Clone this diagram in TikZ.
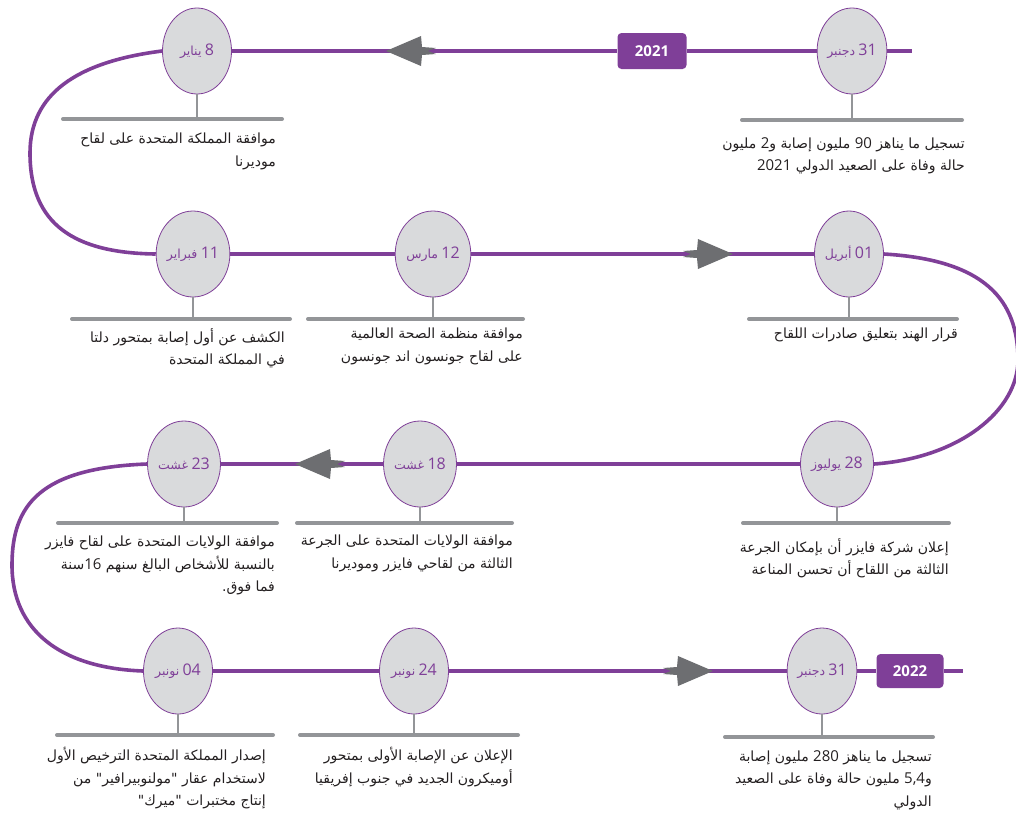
\documentclass[tikz,border=0pt]{standalone}
\usepackage{fontspec}
\usetikzlibrary{shapes.geometric}
\TeXXeTstate=1
\newfontfamily\arabicfont[Script=Arabic]{DejaVu Sans}
\newfontfamily\numfont{Open Sans}
\definecolor{tlpurple}{HTML}{7F3F98}
\definecolor{evfill}{HTML}{D9DADC}
\definecolor{bargray}{HTML}{939598}
\definecolor{arrgray}{HTML}{6D6E71}
\definecolor{txtblack}{HTML}{231F20}
\newcommand\rl[1]{\beginR #1\endR}
\newcommand\nm[1]{{\numfont\fontsize{15}{15}\selectfont #1}}
\newcommand\dlab[2]{\beginR{\numfont\fontsize{16}{16}\selectfont #1}\ {\arabicfont\fontsize{12.5}{12.5}\selectfont #2}\endR}
\begin{document}
\begin{tikzpicture}[x=1pt,y=-1pt,
 ev/.style={ellipse, draw=tlpurple, line width=0.8pt, fill=evfill, minimum width=69pt, minimum height=86pt, inner sep=0pt, text=tlpurple},
 tl/.style={draw=tlpurple, line width=3.6pt},
 bar/.style={draw=bargray, line width=4pt, line cap=round},
 stem/.style={draw=bargray, line width=2.5pt},
 yearbox/.style={fill=tlpurple, rounded corners=4pt, minimum width=69pt, minimum height=36pt, inner sep=0pt, text=white, font=\numfont\bfseries\fontsize{15}{15}\selectfont},
 desc/.style={anchor=north east, align=right, inner sep=0pt, text=txtblack, font=\arabicfont\fontsize{14}{22.5}\selectfont},
 garrow/.pic={\fill[arrgray] (0,0) -- (-35,-15) -- (-36,-4) -- (-50,-3) -- (-42,0) -- (-50,3) -- (-36,4) -- (-35,15) -- cycle;}
]
\useasboundingbox (0,0) rectangle (1016,812);

% events
\node[ev] (e1) at (852,51) {\dlab{31}{دجنبر}};
\node[ev] (e2) at (197,51) {\dlab{8}{يناير}};
\node[ev] (e3) at (193,254) {\dlab{11}{فبراير}};
\node[ev] (e4) at (433,254) {\dlab{12}{مارس}};
\node[ev] (e5) at (849,254) {\dlab{01}{أبريل}};
\node[ev] (e6) at (837,464) {\dlab{28}{يوليوز}};
\node[ev] (e7) at (420,464) {\dlab{18}{غشت}};
\node[ev] (e8) at (184,464) {\dlab{23}{غشت}};
\node[ev] (e9) at (178,671) {\dlab{04}{نونبر}};
\node[ev] (e10) at (414,671) {\dlab{24}{نونبر}};
\node[ev] (e11) at (822,671) {\dlab{31}{دجنبر}};

% year boxes
\node[yearbox] (y21) at (652,51) {2021};
\node[yearbox, minimum width=67pt, minimum height=34pt] (y22) at (910,671) {2022};

\coordinate (r1end) at (912,51);
\coordinate (r4end) at (963,671);

% timeline
\draw[tl] (e1.east) -- (r1end);
\draw[tl] (y21.east) -- (e1.west);
\draw[tl] (e2.east) -- (y21.west);
\draw[tl] (e2.west) .. controls (75,62) and (30,95) .. (30,153) .. controls (30,225) and (75,253) .. (e3.west);
\draw[tl] (e3.east) -- (e4.west);
\draw[tl] (e4.east) -- (e5.west);
\draw[tl] (e5.east) .. controls (985,260) and (1018,300) .. (1018,360) .. controls (1018,410) and (960,458) .. (e6.east);
\draw[tl] (e6.west) -- (e7.east);
\draw[tl] (e7.west) -- (e8.east);
\draw[tl] (e8.west) .. controls (40,468) and (12,505) .. (12,565) .. controls (12,630) and (60,668) .. (e9.west);
\draw[tl] (e9.east) -- (e10.west);
\draw[tl] (e10.east) -- (e11.west);
\draw[tl] (e11.east) -- (y22.west);
\draw[tl] (y22.east) -- (r4end);

% arrows
\pic[xscale=-1] at (386,51) {garrow};
\pic at (733,254) {garrow};
\pic[xscale=-1] at (295,464) {garrow};
\pic at (713,671) {garrow};

% bars and stems
\coordinate (b1l) at (742,120); \coordinate (b1r) at (962,120);
\coordinate (b2l) at (63,119); \coordinate (b2r) at (282,119);
\coordinate (b3l) at (72,319); \coordinate (b3r) at (290,319);
\coordinate (b4l) at (308,319); \coordinate (b4r) at (523,319);
\coordinate (b5l) at (749,319); \coordinate (b5r) at (957,319);
\coordinate (b6l) at (743,523); \coordinate (b6r) at (949,523);
\coordinate (b7l) at (297,523); \coordinate (b7r) at (512,523);
\coordinate (b8l) at (58,523); \coordinate (b8r) at (277,523);
\coordinate (b9l) at (57,735); \coordinate (b9r) at (273,735);
\coordinate (b10l) at (300,735); \coordinate (b10r) at (518,735);
\coordinate (b11l) at (725,737); \coordinate (b11r) at (933,737);
\foreach \i in {1,...,11}{
  \draw[stem] (e\i.south) -- (e\i.south |- b\i l);
  \draw[bar] (b\i l) -- (b\i r);
}

% descriptions
\node[desc] (t1) at (965,137) {\rl{تسجيل ما يناهز \nm{90} مليون إصابة و\nm{2} مليون}\\\rl{حالة وفاة على الصعيد الدولي \nm{2021}}};
\node[desc] (t2) at (276,133) {\rl{موافقة المملكة المتحدة على لقاح}\\\rl{موديرنا}};
\node[desc] (t3) at (285,328) {\rl{الكشف عن أول إصابة بمتحور دلتا}\\\rl{في المملكة المتحدة}};
\node[desc] (t4) at (523,328) {\rl{موافقة منظمة الصحة العالمية}\\\rl{على لقاح جونسون اند جونسون}};
\node[desc] (t5) at (958,328) {\rl{قرار الهند بتعليق صادرات اللقاح}};
\node[desc] (t6) at (949,538) {\rl{إعلان شركة فايزر أن بإمكان الجرعة}\\\rl{الثالثة من اللقاح أن تحسن المناعة}};
\node[desc] (t7) at (513,535) {\rl{موافقة الولايات المتحدة على الجرعة}\\\rl{الثالثة من لقاحي فايزر وموديرنا}};
\node[desc] (t8) at (275,536) {\rl{موافقة الولايات المتحدة على لقاح فايزر}\\\rl{بالنسبة للأشخاص البالغ سنهم \nm{16}سنة}\\\rl{فما فوق.}};
\node[desc] (t9) at (266,747) {\rl{إصدار المملكة المتحدة الترخيص الأول}\\\rl{لاستخدام عقار "مولنوبيرافير" من}\\\rl{إنتاج مختبرات "ميرك"}};
\node[desc] (t10) at (513,747) {\rl{الإعلان عن الإصابة الأولى بمتحور}\\\rl{أوميكرون الجديد في جنوب إفريقيا}};
\node[desc] (t11) at (932,750) {\rl{تسجيل ما يناهز \nm{280} مليون إصابة}\\\rl{و\nm{5,4} مليون حالة وفاة على الصعيد}\\\rl{الدولي}};
\end{tikzpicture}
\end{document}
